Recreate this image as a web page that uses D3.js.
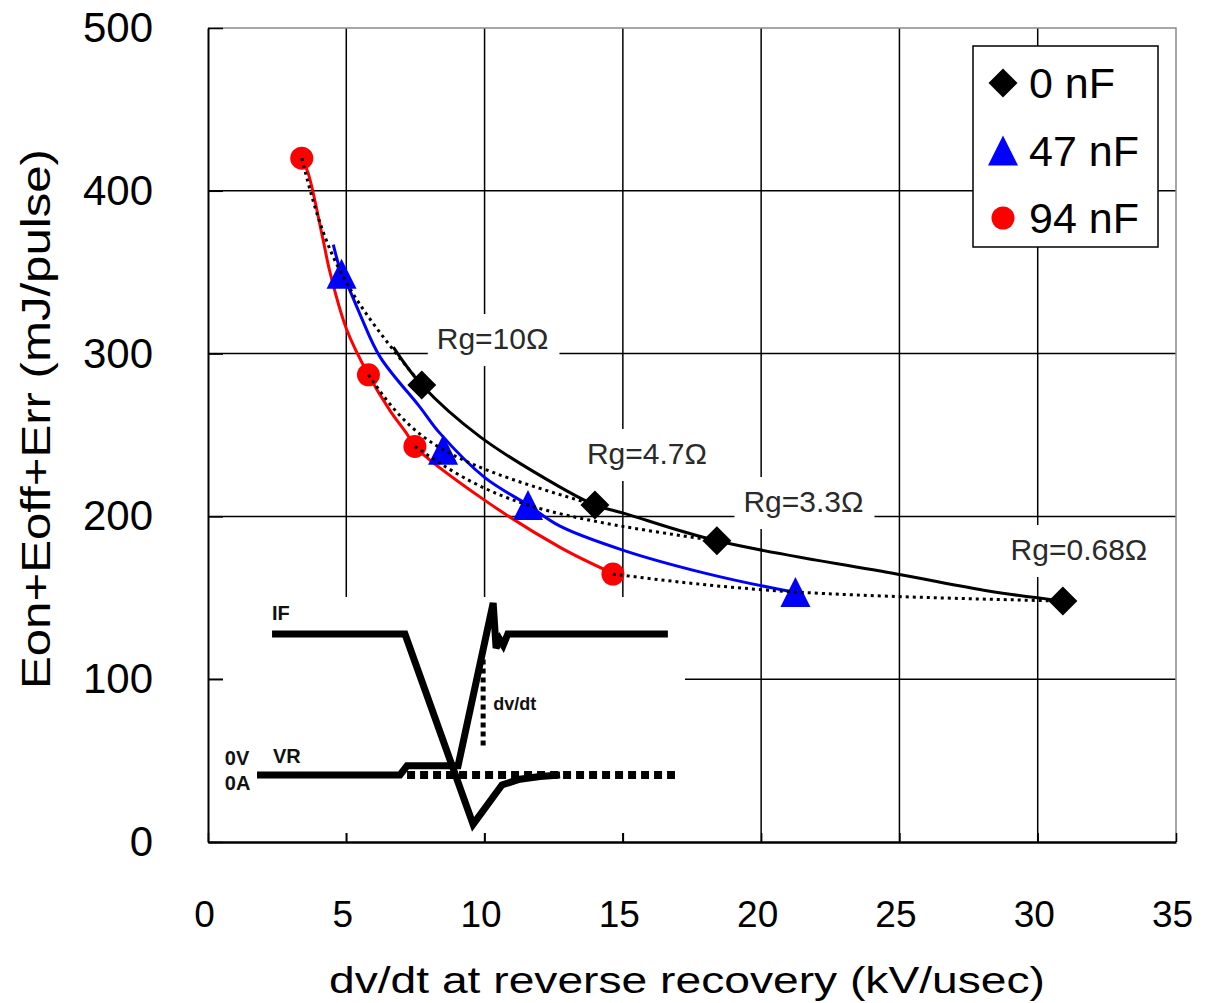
<!DOCTYPE html>
<html>
<head>
<meta charset="utf-8">
<script src="https://cdn.jsdelivr.net/npm/d3@7"></script>
<style>
  body { margin: 0; background: #fff; }
  svg { display: block; font-family: "Liberation Sans", Arial, sans-serif; }
</style>
</head>
<body>
<div id="chart"></div>
<script>
// axis ticks
var xTicks = [0, 5, 10, 15, 20, 25, 30, 35];
var yTicks = [0, 100, 200, 300, 400, 500];

// measured points (dv/dt in kV/usec, loss in mJ/pulse), one per gate resistor
var seriesNames = ["0 nF", "47 nF", "94 nF"];
var dvdt0 = [7.73, 13.99, 18.40, 30.91];
var loss0 = [280.7, 207, 185, 148];
var dvdt47 = [4.83, 8.50, 11.57, 21.24];
var loss47 = [349, 241, 207, 153.6];
var dvdt94 = [3.39, 5.80, 7.48, 14.64];
var loss94 = [420, 287, 243, 164.6];

// trend curves
var fitX0 = [6.70, 7.73, 9.83, 12.73, 13.99, 15.02, 18.40, 25.1, 28.27, 30.91];
var fitY0 = [304, 280.7, 249, 218, 207, 202, 185, 164, 154, 148];
var fitX47 = [4.53, 4.83, 5.07, 5.50, 6.22, 7.67, 8.39, 10.0, 11.57, 12.73, 15.05, 18.0, 20.73, 21.24];
var fitY47 = [367, 349, 341, 324, 298, 267, 251, 224, 207, 194, 179, 165, 155, 153.6];
var fitX94 = [3.39, 3.62, 4.16, 4.41, 5.01, 5.80, 6.58, 7.18, 7.48, 10.0, 12.73, 14.64];
var fitY94 = [420, 411, 370, 350, 315, 287, 265, 251, 243, 210, 181, 165];

// gate resistor labels and where they sit (data units)
var rgLabels = ["Rg=10\u03a9", "Rg=4.7\u03a9", "Rg=3.3\u03a9", "Rg=0.68\u03a9"];
var rgLabelX = [10.29, 15.87, 21.53, 31.49];
var rgLabelY = [302.8, 232.2, 202.7, 173.2];

// inset waveform (time 0-100, level: 0 = zero line, 1 = IF level)
var ifT = [3.6, 35.4, 51.7, 58.6, 62.9, 67.7, 72.5];
var ifL = [1, 1, -0.35, -0.07, -0.03, -0.01, 0];
var vrT = [0, 34.2, 35.9, 48.1, 56.5, 57.2, 58.1, 58.9, 60, 98.3];
var vrL = [0, 0, 0.065, 0.065, 1.22, 0.9, 0.96, 0.92, 1, 1];

var width = 1206, height = 1003;
var colors = ["#000000", "#0000ff", "#ff0000"];

var svg = d3.select("#chart").append("svg")
  .attr("width", width)
  .attr("height", height);

var x = d3.scaleLinear().domain([0, 35]).range([208, 1176]);
var y = d3.scaleLinear().domain([0, 500]).range([842, 28]);

// grid
svg.append("g").selectAll("line")
  .data(xTicks.slice(1, -1))
  .enter().append("line")
  .attr("x1", function(d){ return x(d); }).attr("x2", function(d){ return x(d); })
  .attr("y1", y(0)).attr("y2", y(500))
  .attr("stroke", "#000").attr("stroke-width", 1.5);
svg.append("g").selectAll("line")
  .data(yTicks.slice(1, -1))
  .enter().append("line")
  .attr("x1", x(0)).attr("x2", x(35))
  .attr("y1", function(d){ return y(d); }).attr("y2", function(d){ return y(d); })
  .attr("stroke", "#000").attr("stroke-width", 1.5);

// top and right frame
svg.append("path")
  .attr("d", "M" + x(0) + "," + y(500) + "H" + x(35) + "V" + y(0))
  .attr("fill", "none").attr("stroke", "#8a8a8a").attr("stroke-width", 1.5);

// Rg labels with white boxes
var rg = svg.append("g").selectAll("g")
  .data(rgLabels)
  .enter().append("g");
rg.append("text")
  .attr("x", function(d, i){ return x(rgLabelX[i]); })
  .attr("y", function(d, i){ return y(rgLabelY[i]); })
  .attr("text-anchor", "middle")
  .attr("font-size", 30)
  .attr("fill", "#2a2a2a")
  .text(function(d){ return d; });
rg.each(function(d, i){
  var g = d3.select(this);
  var bb = g.select("text").node().getBBox();
  g.insert("rect", "text")
    .attr("x", bb.x - 9).attr("width", bb.width + 20)
    .attr("y", y(rgLabelY[i]) - 35).attr("height", 52)
    .attr("fill", "#fff");
});

// inset diagram
var ix = d3.scaleLinear().domain([0, 100]).range([257, 675]);
var iy = d3.scaleLinear().domain([0, 1]).range([775, 634]);
svg.append("rect")
  .attr("x", 223).attr("y", 597).attr("width", 462).attr("height", 236)
  .attr("fill", "#fff");

var inset = svg.append("g");
var iline = d3.line()
  .x(function(d){ return ix(d[0]); })
  .y(function(d){ return iy(d[1]); });

inset.append("path")
  .attr("d", iline([[35.9, 0], [100, 0]]))
  .attr("fill", "none").attr("stroke", "#000").attr("stroke-width", 8)
  .attr("stroke-dasharray", "8,5");
inset.append("path")
  .attr("d", iline(d3.zip(vrT, vrL)))
  .attr("fill", "none").attr("stroke", "#000").attr("stroke-width", 7)
  .attr("stroke-linejoin", "miter");
inset.append("path")
  .attr("d", iline(d3.zip(ifT, ifL)))
  .attr("fill", "none").attr("stroke", "#000").attr("stroke-width", 7)
  .attr("stroke-linejoin", "miter");
inset.append("path")
  .attr("d", iline([[54.1, 0.82], [54.1, 0.21]]))
  .attr("fill", "none").attr("stroke", "#000").attr("stroke-width", 5)
  .attr("stroke-dasharray", "5,4");

var insetText = [
  {t: 3.6, l: 1.10, s: "IF"},
  {t: 3.8, l: 0.085, s: "VR"},
  {t: -7.7, l: 0.07, s: "0V"},
  {t: -7.7, l: -0.106, s: "0A"},
  {t: 56.5, l: 0.46, s: "dv/dt"}
];
inset.selectAll("text")
  .data(insetText)
  .enter().append("text")
  .attr("x", function(d){ return ix(d.t); })
  .attr("y", function(d){ return iy(d.l); })
  .attr("font-size", function(d){ return d.s == "dv/dt" ? 18 : 20; })
  .attr("font-weight", "bold")
  .attr("fill", "#111")
  .text(function(d){ return d.s; });

// axes
var xAxis = d3.axisBottom(x).tickValues(xTicks).tickSize(-9).tickSizeOuter(0).tickPadding(59);
var gx = svg.append("g").attr("transform", "translate(0," + y(0) + ")").call(xAxis);
gx.select(".domain").attr("stroke-width", 2.5);
gx.selectAll(".tick line").attr("stroke-width", 1.5);
gx.selectAll("text").attr("font-size", 37).attr("font-family", null).attr("dx", -4).attr("fill", "#000");

var yAxis = d3.axisLeft(y).tickValues(yTicks).tickSize(-15).tickSizeOuter(0).tickPadding(55);
var gy = svg.append("g").attr("transform", "translate(" + x(0) + ",0)").call(yAxis);
gy.select(".domain").attr("stroke-width", 2);
gy.selectAll(".tick line").attr("stroke-width", 1.5);
gy.selectAll("text").attr("font-size", 42).attr("font-family", null).attr("fill", "#000");

svg.append("text")
  .attr("x", 687).attr("y", 993)
  .attr("text-anchor", "middle")
  .attr("font-size", 36)
  .attr("textLength", 716).attr("lengthAdjust", "spacingAndGlyphs")
  .text("dv/dt at reverse recovery (kV/usec)");

svg.append("text")
  .attr("transform", "translate(50,419) rotate(-90)")
  .attr("text-anchor", "middle")
  .attr("font-size", 41)
  .attr("textLength", 540).attr("lengthAdjust", "spacingAndGlyphs")
  .text("Eon+Eoff+Err (mJ/pulse)");

// trend curves
var curve = d3.line()
  .x(function(d){ return x(d[0]); })
  .y(function(d){ return y(d[1]); })
  .curve(d3.curveCatmullRom);
var fits = [d3.zip(fitX0, fitY0), d3.zip(fitX47, fitY47), d3.zip(fitX94, fitY94)];
svg.append("g").selectAll("path")
  .data(fits)
  .enter().append("path")
  .attr("d", curve)
  .attr("fill", "none")
  .attr("stroke", function(d, i){ return colors[i]; })
  .attr("stroke-width", 3);

// markers
var diamond = d3.symbol().type(d3.symbolSquare).size(420);
var triangle = "M0,-15L15,15L-15,15Z";
function drawMarker(g, i) {
  if (i == 0) g.append("path").attr("d", diamond()).attr("transform", "rotate(45)").attr("fill", colors[0]);
  if (i == 1) g.append("path").attr("d", triangle).attr("fill", colors[1]);
  if (i == 2) g.append("circle").attr("r", 11.5).attr("fill", colors[2]);
}
var pts = [d3.zip(dvdt0, loss0), d3.zip(dvdt47, loss47), d3.zip(dvdt94, loss94)];
pts.forEach(function(s, i){
  svg.append("g").selectAll("g")
    .data(s)
    .enter().append("g")
    .attr("transform", function(d){ return "translate(" + x(d[0]) + "," + y(d[1]) + ")"; })
    .each(function(){ drawMarker(d3.select(this), i); });
});

// dotted lines joining equal gate resistor points across capacitances
var iso = d3.line()
  .x(function(d){ return x(d[0]); })
  .y(function(d){ return y(d[1]); })
  .curve(d3.curveNatural);
var isoData = rgLabels.map(function(r, k){
  return [[dvdt94[k], loss94[k]], [dvdt47[k], loss47[k]], [dvdt0[k], loss0[k]]];
});
svg.append("g").selectAll("path")
  .data(isoData)
  .enter().append("path")
  .attr("d", iso)
  .attr("fill", "none")
  .attr("stroke", "#000")
  .attr("stroke-width", 3)
  .attr("stroke-dasharray", "3,4");

// legend
var legend = svg.append("g");
legend.append("rect")
  .attr("x", 973).attr("y", 46).attr("width", 185).attr("height", 201)
  .attr("fill", "#fff").attr("stroke", "#000").attr("stroke-width", 1.5);
var rowY = d3.scalePoint().domain(seriesNames).range([83, 218]);
var items = legend.selectAll("g.item")
  .data(seriesNames)
  .enter().append("g").attr("class", "item")
  .attr("transform", function(d){ return "translate(1003," + rowY(d) + ")"; });
items.each(function(d, i){ drawMarker(d3.select(this), i); });
items.append("text")
  .attr("x", 26).attr("y", 15)
  .attr("font-size", 43)
  .text(function(d){ return d; });
</script>
</body>
</html>
